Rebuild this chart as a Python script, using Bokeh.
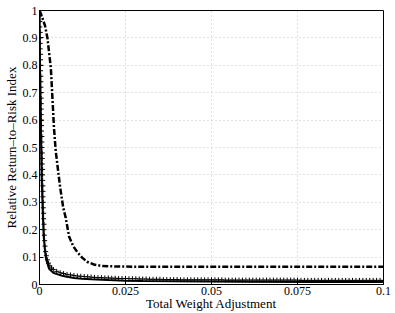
from bokeh.plotting import figure
from bokeh.models import Range1d, FixedTicker
from bokeh.embed import file_html
from bokeh.resources import INLINE

# ---- data ----
x_ticks = [0, 0.025, 0.05, 0.075, 0.1]
x_labels = ["0", "0.025", "0.05", "0.075", "0.1"]
y_ticks = [0, 0.1, 0.2, 0.3, 0.4, 0.5, 0.6, 0.7, 0.8, 0.9, 1.0]
y_labels = ["0", "0.1", "0.2", "0.3", "0.4", "0.5", "0.6", "0.7", "0.8", "0.9", "1"]

solid_x = [0, 0.0001, 0.0002, 0.0004, 0.0006, 0.0009, 0.0012, 0.0016, 0.002, 0.0028,
           0.004, 0.0055, 0.0066, 0.008, 0.01, 0.0124, 0.015, 0.02, 0.025, 0.03,
           0.04, 0.05, 0.06, 0.08, 0.1]
solid_y = [1.0, 0.85, 0.72, 0.55, 0.40, 0.28, 0.18, 0.12, 0.09, 0.057,
           0.043, 0.036, 0.032, 0.028, 0.024, 0.021, 0.019, 0.016, 0.014, 0.013,
           0.012, 0.011, 0.010, 0.009, 0.009]

dashdot_x = [0, 0.0004, 0.0016, 0.0023, 0.0033, 0.0038, 0.0042, 0.0047, 0.0054, 0.006,
             0.0069, 0.0076, 0.0086, 0.0098, 0.011, 0.0124, 0.0138, 0.0158, 0.018, 0.022,
             0.028, 0.04, 0.06, 0.08, 0.1]
dashdot_y = [1.0, 0.988, 0.945, 0.90, 0.79, 0.67, 0.574, 0.489, 0.416, 0.355,
             0.28, 0.245, 0.175, 0.14, 0.118, 0.098, 0.083, 0.073, 0.068, 0.066,
             0.065, 0.065, 0.065, 0.065, 0.065]

plus_x = [0.0000, 0.0001, 0.0001, 0.0001, 0.0002, 0.0002, 0.0002, 0.0002, 0.0003, 0.0003,
          0.0003, 0.0003, 0.0004, 0.0004, 0.0004, 0.0004, 0.0005, 0.0005, 0.0005, 0.0005,
          0.0006, 0.0006, 0.0006, 0.0007, 0.0007, 0.0007, 0.0008, 0.0008, 0.0008, 0.0009,
          0.0009, 0.0009, 0.0010, 0.0010, 0.0010, 0.0011, 0.0011, 0.0012, 0.0012, 0.0013,
          0.0013, 0.0014, 0.0015, 0.0016, 0.0018, 0.0020, 0.0023, 0.0026, 0.0030, 0.0035,
          0.004, 0.005, 0.006, 0.007, 0.008, 0.009, 0.010, 0.011, 0.012, 0.013,
          0.014, 0.015, 0.016, 0.017, 0.018, 0.019, 0.020, 0.021, 0.022, 0.023,
          0.024, 0.025, 0.026, 0.027, 0.028, 0.029, 0.030, 0.031, 0.032, 0.033,
          0.034, 0.035, 0.036, 0.037, 0.038, 0.039, 0.040, 0.041, 0.042, 0.043,
          0.044, 0.045, 0.046, 0.047, 0.048, 0.049, 0.050, 0.051, 0.052, 0.053,
          0.054, 0.055, 0.056, 0.057, 0.058, 0.059, 0.060, 0.061, 0.062, 0.063,
          0.064, 0.065, 0.066, 0.067, 0.068, 0.069, 0.070, 0.071, 0.072, 0.073,
          0.074, 0.075, 0.076, 0.077, 0.078, 0.079, 0.080, 0.081, 0.082, 0.083,
          0.084, 0.085, 0.086, 0.087, 0.088, 0.089, 0.090, 0.091, 0.092, 0.093,
          0.094, 0.095, 0.096, 0.097, 0.098, 0.099, 0.100]
plus_y = [1.00, 0.98, 0.96, 0.94, 0.92, 0.90, 0.88, 0.86, 0.84, 0.82,
          0.80, 0.78, 0.76, 0.74, 0.72, 0.70, 0.68, 0.66, 0.64, 0.62,
          0.60, 0.58, 0.56, 0.54, 0.52, 0.50, 0.48, 0.46, 0.44, 0.42,
          0.40, 0.38, 0.36, 0.34, 0.32, 0.30, 0.28, 0.26, 0.24, 0.22,
          0.20, 0.18, 0.16, 0.14, 0.12, 0.105, 0.09, 0.078, 0.068, 0.060,
          0.055, 0.048, 0.043, 0.040, 0.037, 0.035, 0.033, 0.031, 0.030, 0.029,
          0.028, 0.027, 0.026, 0.025, 0.025, 0.024, 0.024, 0.023, 0.023, 0.022,
          0.022, 0.022, 0.021, 0.021, 0.021, 0.020, 0.020, 0.020, 0.019, 0.019,
          0.019, 0.019, 0.018, 0.018, 0.018, 0.018, 0.018, 0.017, 0.017, 0.017,
          0.017, 0.017, 0.017, 0.017, 0.017, 0.017, 0.017, 0.017, 0.017, 0.017,
          0.016, 0.016, 0.016, 0.016, 0.016, 0.016, 0.016, 0.016, 0.016, 0.016,
          0.016, 0.016, 0.016, 0.016, 0.016, 0.016, 0.016, 0.016, 0.016, 0.016,
          0.016, 0.016, 0.015, 0.015, 0.015, 0.015, 0.015, 0.015, 0.015, 0.015,
          0.015, 0.015, 0.015, 0.015, 0.015, 0.015, 0.015, 0.015, 0.015, 0.015,
          0.015, 0.015, 0.015, 0.015, 0.015, 0.015, 0.015]

x_title = "Total Weight Adjustment"
y_title = "Relative Return\u2013to\u2013Risk Index"

FONT = "Liberation Serif"

p = figure(width=395, height=313, output_backend="svg", toolbar_location=None,
           x_range=Range1d(0, 0.1), y_range=Range1d(0, 1),
           min_border_left=37, min_border_right=12, min_border_top=10, min_border_bottom=29)
p.background_fill_color = "white"
p.border_fill_color = "white"
p.outline_line_color = "black"
p.outline_line_width = 1

# grid
for g in (p.xgrid, p.ygrid):
    g.grid_line_color = "#c4c4c4"
    g.grid_line_dash = "1 3"
    g.grid_line_width = 1
p.xgrid.ticker = FixedTicker(ticks=x_ticks)
p.ygrid.ticker = FixedTicker(ticks=y_ticks)

# axes
p.xaxis.ticker = FixedTicker(ticks=x_ticks)
p.xaxis.major_label_overrides = dict(zip(x_ticks, x_labels))
p.yaxis.ticker = FixedTicker(ticks=y_ticks)
p.yaxis.major_label_overrides = dict(zip(y_ticks, y_labels))
p.xaxis.axis_label = x_title
p.yaxis.axis_label = y_title
for ax in (p.xaxis, p.yaxis):
    ax.axis_line_color = "black"
    ax.major_tick_in = 4
    ax.major_tick_out = 0
    ax.minor_tick_line_color = None
    ax.major_label_text_font = FONT
    ax.major_label_text_font_size = "12px"
    ax.major_label_text_color = "black"
    ax.major_label_standoff = 2
    ax.axis_label_text_font = FONT
    ax.axis_label_text_font_size = "13px"
    ax.axis_label_text_font_style = "normal"
    ax.axis_label_text_color = "black"
p.yaxis.axis_label_standoff = 1
p.xaxis.axis_label_standoff = -2

p.line(dashdot_x, dashdot_y, line_color="black", line_width=2.5, line_dash="6 2 2 2")
p.line(solid_x, solid_y, line_color="black", line_width=2)
p.scatter(plus_x, plus_y, marker="cross", size=5, line_color="black", line_width=1)

open("out.html", "w").write(file_html(p, INLINE))
